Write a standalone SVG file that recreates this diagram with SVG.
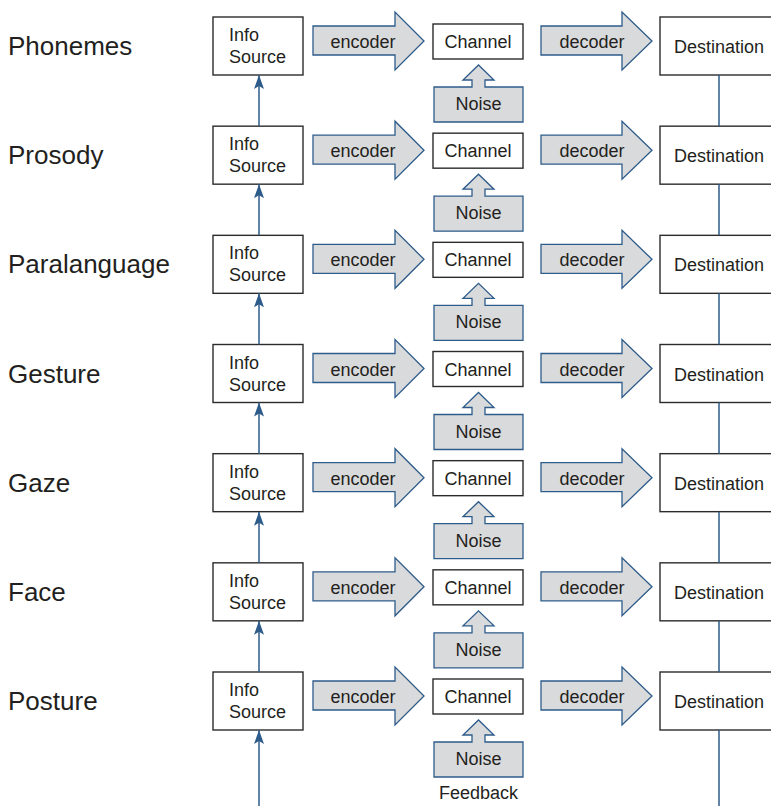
<svg xmlns="http://www.w3.org/2000/svg" width="771" height="806" viewBox="0 0 771 806">
<style>
text{font-family:"Liberation Sans",Arial,sans-serif;fill:#231f20}
.lbl{font-size:26px}
.t{font-size:18px}
.m{text-anchor:middle}
.box{fill:#fff;stroke:#2b2b2b;stroke-width:1.4}
.arr{fill:#d9dadc;stroke:#2d5b8a;stroke-width:1.3;stroke-linejoin:miter}
.con{stroke:#2d5b8a;stroke-width:1.5;fill:none}
</style>
<defs>
<marker id="ah" markerUnits="userSpaceOnUse" markerWidth="16" markerHeight="12" refX="14" refY="6" orient="auto">
<path d="M0,1 L14,6 L0,11 L3,6 z" fill="#2d5b8a"/>
</marker>
<g id="row">
<rect class="box" x="213" y="17" width="90" height="58"/>
<text class="t" x="229" y="41">Info</text>
<text class="t" x="229" y="63">Source</text>
<path class="arr" d="M313,26 L395,26 L395,12 L424,41 L395,70 L395,55 L313,55 Z"/>
<text class="t m" x="363" y="48">encoder</text>
<rect class="box" x="433" y="24" width="90" height="35"/>
<text class="t m" x="478" y="48">Channel</text>
<path class="arr" d="M434,87 L472,87 L472,80 L463,80 L478.5,65 L494,80 L485,80 L485,87 L523,87 L523,122 L434,122 Z"/>
<text class="t m" x="478.5" y="110">Noise</text>
<path class="arr" d="M541,26 L622,26 L622,12 L652,41 L622,70 L622,55 L541,55 Z"/>
<text class="t m" x="592" y="48">decoder</text>
<rect class="box" x="660" y="17" width="130" height="58"/>
<text class="t m" x="719" y="53">Destination</text>
</g>
</defs>
<g id="row-phonemes"><text class="lbl" x="8" y="55">Phonemes</text><use href="#row"/></g>
<g id="row-prosody" transform="translate(0,109.17)"><text class="lbl" x="8" y="55">Prosody</text><use href="#row"/></g>
<g id="row-paralanguage" transform="translate(0,218.33)"><text class="lbl" x="8" y="55">Paralanguage</text><use href="#row"/></g>
<g id="row-gesture" transform="translate(0,327.5)"><text class="lbl" x="8" y="55">Gesture</text><use href="#row"/></g>
<g id="row-gaze" transform="translate(0,436.67)"><text class="lbl" x="8" y="55">Gaze</text><use href="#row"/></g>
<g id="row-face" transform="translate(0,545.83)"><text class="lbl" x="8" y="55">Face</text><use href="#row"/></g>
<g id="row-posture" transform="translate(0,655)"><text class="lbl" x="8" y="55">Posture</text><use href="#row"/></g>
<g id="connectors">
<line class="con" x1="259" y1="126.17" x2="259" y2="75" marker-end="url(#ah)"/>
<line class="con" x1="259" y1="235.33" x2="259" y2="184.17" marker-end="url(#ah)"/>
<line class="con" x1="259" y1="344.5" x2="259" y2="293.33" marker-end="url(#ah)"/>
<line class="con" x1="259" y1="453.67" x2="259" y2="402.5" marker-end="url(#ah)"/>
<line class="con" x1="259" y1="562.83" x2="259" y2="511.67" marker-end="url(#ah)"/>
<line class="con" x1="259" y1="672" x2="259" y2="620.83" marker-end="url(#ah)"/>
<line class="con" x1="259" y1="806" x2="259" y2="730" marker-end="url(#ah)"/>
<line class="con" x1="719" y1="75" x2="719" y2="126.17"/>
<line class="con" x1="719" y1="184.17" x2="719" y2="235.33"/>
<line class="con" x1="719" y1="293.33" x2="719" y2="344.5"/>
<line class="con" x1="719" y1="402.5" x2="719" y2="453.67"/>
<line class="con" x1="719" y1="511.67" x2="719" y2="562.83"/>
<line class="con" x1="719" y1="620.83" x2="719" y2="672"/>
<line class="con" x1="719" y1="730" x2="719" y2="806"/>
</g>
<text class="t m" x="478.5" y="799">Feedback</text>
</svg>
